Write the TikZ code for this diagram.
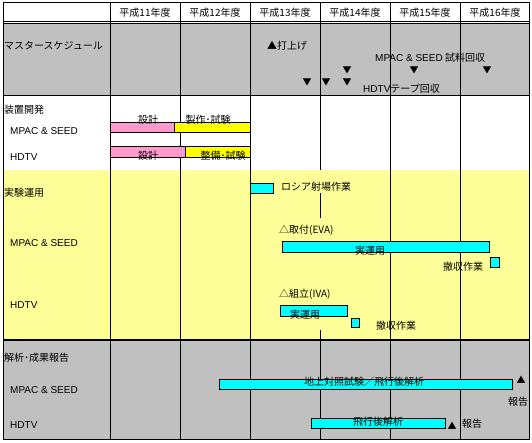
\documentclass[tikz,border=0pt]{standalone}
\usepackage{fontspec}
\setmainfont{Noto Sans CJK JP}
\newfontfamily\lat{Liberation Sans}
\definecolor{bandgray}{RGB}{192,192,192}
\definecolor{bandyellow}{RGB}{255,255,153}
\definecolor{barpink}{RGB}{255,153,204}
\definecolor{barcyan}{RGB}{0,255,255}
\definecolor{baryellow}{RGB}{255,255,0}
\begin{document}
\begin{tikzpicture}[x=1pt, y=-1pt, font=\fontsize{10}{12}\selectfont,
    lbl/.style={inner sep=0pt, anchor=west},
    txt/.style={inner sep=0pt},
    bar/.style={draw, line width=.8pt},
    tri/.style={inner sep=0pt, font=\fontsize{9}{9}\selectfont}]
\useasboundingbox (0,0) rectangle (532,443);
% bands
\fill[white] (3,3) rectangle (529,23);
\fill[bandgray] (3,23) rectangle (529,96);
\fill[white] (3,96) rectangle (529,170);
\fill[bandyellow] (3,170) rectangle (529,340);
\fill[bandgray] (3,340) rectangle (529,439);
% grid
\foreach \x in {110,180,...,460} \draw (\x,3) -- (\x,439);
\fill[bandyellow] (318,170.5) rectangle (322,193);
\fill[bandyellow] (318,218) rectangle (322,330);
\draw (3,21) -- (529,21);
\draw (3,23.5) -- (529,23.5);
\draw[line width=1pt] (3,96) -- (529,96);
\draw[line width=1.2pt] (3,340) -- (529,340);
\draw[line width=1pt] (3,3) rectangle (529,439);
% years
\foreach \n [count=\i] in {11,...,16}
  \node[txt] (y\n) at (75+70*\i,13) {平成\n 年度};
% row titles
\node[lbl] (ms) at (4,46) {マスタースケジュール};
\node[lbl] (dev) at (4,110) {装置開発};
\node[lbl] (devmp) at (10,131) {\lat MPAC \& SEED};
\node[lbl] (devhd) at (10,157) {\lat HDTV};
\node[lbl] (ops) at (4,193) {実験運用};
\node[lbl] (opsmp) at (10,243) {\lat MPAC \& SEED};
\node[lbl] (opshd) at (10,305) {\lat HDTV};
\node[lbl] (ana) at (4,358) {解析･成果報告};
\node[lbl] (anamp) at (10,390) {\lat MPAC \& SEED};
\node[lbl] (anahd) at (10,425) {\lat HDTV};
% master schedule
\node[lbl] (launch) at (267,46) {▲打上げ};
\node[lbl] (smp) at (375,58) {{\lat MPAC \& SEED} 試料回収};
\node[lbl] (tape) at (363,89) {{\lat HDTV}テープ回収};
\foreach \x/\y [count=\k] in {347/70,414/70,487/70,307/82,326/82,347/82}
  \node[tri] (dn\k) at (\x,\y) {▼};
% device development
\draw[bar, fill=barpink] (110,122) rectangle (174,132);
\draw[bar, fill=baryellow] (174,122) rectangle (250,132);
\node[txt] (des1) at (148,120) {設計};
\node[txt] (mk1) at (208,120) {製作･試験};
\draw[bar, fill=barpink] (110,146) rectangle (185,157);
\draw[bar, fill=baryellow] (185,146) rectangle (250,157);
\node[txt] (des2) at (148,156) {設計};
\node[txt] (mk2) at (223,156) {整備･試験};
% operations
\draw[bar, fill=barcyan] (250,183) rectangle (273,193);
\node[lbl] (site) at (281,187) {ロシア射場作業};
\node[lbl] (eva) at (279,230) {△取付(EVA)};
\draw[bar, fill=barcyan] (282,241) rectangle (489,252);
\node[txt] (run1) at (370,251) {実運用};
\draw[bar, fill=barcyan] (490,257) rectangle (499,267);
\node[txt] (rm1) at (463,267) {撤収作業};
\node[lbl] (iva) at (279,294) {△組立(IVA)};
\draw[bar, fill=barcyan] (280,305) rectangle (347,316);
\node[txt] (run2) at (305,315) {実運用};
\draw[bar, fill=barcyan] (351,318) rectangle (359,327);
\node[txt] (rm2) at (396,326) {撤収作業};
% analysis
\draw[bar, fill=barcyan] (219,379) rectangle (512,389);
\node[txt] (grd) at (364,382) {地上対照試験／飛行後解析};
\node[tri] (up1) at (521,380) {▲};
\node[txt] (rep1) at (518,402) {報告};
\draw[bar, fill=barcyan] (311,418) rectangle (445,428);
\node[txt] (flt) at (378,422) {飛行後解析};
\node[tri] (up2) at (452,426) {▲};
\node[txt] (rep2) at (472,424) {報告};
\end{tikzpicture}
\end{document}
